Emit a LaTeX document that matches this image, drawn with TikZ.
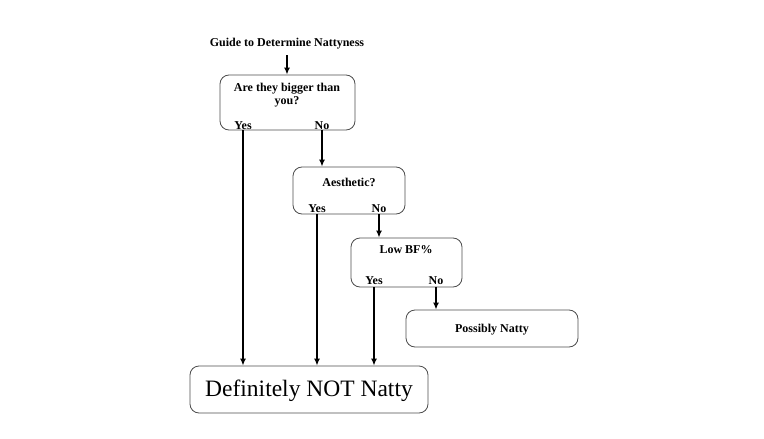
\documentclass[tikz,border=0pt]{standalone}
\usepackage{fontspec}
\setmainfont{Liberation Serif}
\usetikzlibrary{arrows.meta,calc}
\begin{document}
\begin{tikzpicture}[x=1pt,y=-1pt,
  box/.style={draw=black!70,line width=0.8pt,rounded corners=9pt,inner sep=0pt},
  lbl/.style={font=\bfseries\fontsize{12}{14}\selectfont,inner sep=0pt,anchor=base},
  arr/.style={line width=1.5pt,-{Latex[length=7pt,width=6pt]}}]
\useasboundingbox (0,0) rectangle (764,439);
\node[lbl] (title) at (287,46) {Guide to Determine Nattyness};
% boxes
\node[box,minimum width=135pt,minimum height=55pt] (b1) at (287.5,102.5) {};
\node[box,minimum width=112pt,minimum height=47pt] (b2) at (349,190.5) {};
\node[box,minimum width=111pt,minimum height=49pt] (b3) at (406.5,262.5) {};
\node[box,minimum width=172pt,minimum height=37pt] (b4) at (492,328.5) {};
\node[box,minimum width=238pt,minimum height=47pt] (b5) at (309,389.5) {};
% texts
\node[lbl] (t1a) at (287,91) {Are they bigger than};
\node[lbl] (t1b) at (287,104.5) {you?};
\node[lbl] (y1) at (243,129.5) {Yes};
\node[lbl] (n1) at (322,129.5) {No};
\node[lbl] (t2) at (349,186) {Aesthetic?};
\node[lbl] (y2) at (317,212.5) {Yes};
\node[lbl] (n2) at (379,212.5) {No};
\node[lbl] (t3) at (406,253) {Low BF\%};
\node[lbl] (y3) at (374,284.5) {Yes};
\node[lbl] (n3) at (436,284.5) {No};
\node[lbl] (t4) at (492,332) {Possibly Natty};
\node[font=\fontsize{23.5}{26}\selectfont,inner sep=0pt,anchor=base] (t5) at (309,396.5) {Definitely NOT Natty};
% connectors
\draw[arr] (title.south |- 0,55) -- (title.south |- b1.north);
\draw[arr] (y1 |- b1.south) -- (y1 |- b5.north);
\draw[arr] (n1 |- b1.south) -- (n1 |- b2.north);
\draw[arr] (y2 |- b2.south) -- (y2 |- b5.north);
\draw[arr] (n2 |- b2.south) -- (n2 |- b3.north);
\draw[arr] (y3 |- b3.south) -- (y3 |- b5.north);
\draw[arr] (n3 |- b3.south) -- (n3 |- b4.north);
\end{tikzpicture}
\end{document}
